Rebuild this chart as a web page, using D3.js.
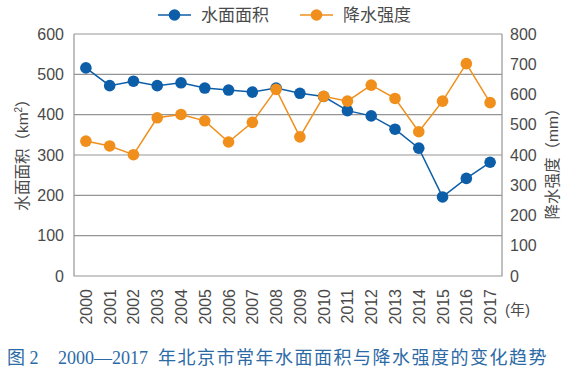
<!DOCTYPE html>
<html>
<head>
<meta charset="utf-8">
<script src="https://cdn.jsdelivr.net/npm/d3@7"></script>
<style>
  body { margin: 0; background: #fff; }
  svg text { font-family: "Liberation Sans", "Noto Sans CJK SC", sans-serif; }
</style>
</head>
<body>
<svg id="chart" width="588" height="373"></svg>
<script>
// data
var years = ['2000', '2001', '2002', '2003', '2004', '2005', '2006', '2007', '2008',
    '2009', '2010', '2011', '2012', '2013', '2014', '2015', '2016', '2017']
var waterArea = [516, 472, 483, 472, 479, 466, 461, 456, 466, 453, 445, 410, 397, 364, 317, 196, 242, 282]
var rainfall = [446, 430, 401, 523, 534, 513, 443, 508, 617, 460, 594, 578, 631, 587, 477, 578, 702, 573]
var leftTicks = [0, 100, 200, 300, 400, 500, 600]
var rightTicks = [0, 100, 200, 300, 400, 500, 600, 700, 800]

var blue = '#0d5ea8'
var orange = '#f08f1c'
var textColor = '#4a4a4a'

var svg = d3.select('#chart')
var pl = 74, pr = 502, pt = 34, pb = 276

var x = d3.scaleBand().domain(years).range([pl, pr])
var yL = d3.scaleLinear().domain([0, 600]).range([pb, pt])
var yR = d3.scaleLinear().domain([0, 800]).range([pb, pt])
var cx = function(d, i) { return x(years[i]) + x.bandwidth() / 2 }

// grid lines
svg.append('g').selectAll('line')
    .data(leftTicks.slice(1))
    .enter()
    .append('line')
    .attr('x1', pl).attr('x2', pr)
    .attr('y1', function(d) { return yL(d) })
    .attr('y2', function(d) { return yL(d) })
    .style('stroke', '#959595')
    .style('stroke-width', 1.2)

// axis frame
svg.append('path')
    .attr('d', 'M' + pl + ',' + pt + 'V' + pb + 'H' + pr + 'V' + pt)
    .style('fill', 'none')
    .style('stroke', '#959595')
    .style('stroke-width', 1.2)

// left ticks
svg.append('g').selectAll('text')
    .data(leftTicks)
    .enter()
    .append('text')
    .attr('x', pl - 10)
    .attr('y', function(d) { return yL(d) + 5.5 })
    .attr('text-anchor', 'end')
    .style('font-size', '16px')
    .style('fill', textColor)
    .text(function(d) { return d })

// right ticks
svg.append('g').selectAll('text')
    .data(rightTicks)
    .enter()
    .append('text')
    .attr('x', pr + 8)
    .attr('y', function(d) { return yR(d) + 5.5 })
    .style('font-size', '16px')
    .style('fill', textColor)
    .text(function(d) { return d })

// year labels, rotated
svg.append('g').selectAll('text')
    .data(years)
    .enter()
    .append('text')
    .attr('transform', function(d) {
        return 'translate(' + (x(d) + x.bandwidth() / 2 + 6) + ',' + (pb + 13) + ') rotate(-90)'
    })
    .attr('text-anchor', 'end')
    .style('font-size', '16px')
    .style('fill', textColor)
    .text(function(d) { return d })

svg.append('text')
    .attr('x', 505).attr('y', 315)
    .style('font-size', '15px')
    .style('fill', textColor)
    .text('(年)')

// axis titles
var lt = svg.append('text')
    .attr('transform', 'translate(28,151) rotate(-90)')
    .attr('text-anchor', 'middle')
    .style('font-size', '15.5px')
    .style('fill', textColor)
lt.append('tspan').text('水面面积（km')
lt.append('tspan').attr('dy', -6).style('font-size', '10px').text('2')
lt.append('tspan').attr('dy', 6).text('）')

svg.append('text')
    .attr('transform', 'translate(558,160) rotate(-90)')
    .attr('text-anchor', 'middle')
    .style('font-size', '15.5px')
    .style('fill', textColor)
    .text('降水强度（mm）')

// series
function drawSeries(values, scale, color) {
    var line = d3.line()
        .x(function(d, i) { return cx(d, i) })
        .y(function(d) { return scale(d) })
    var g = svg.append('g')
    g.append('path')
        .datum(values)
        .attr('d', line)
        .style('fill', 'none')
        .style('stroke', color)
        .style('stroke-width', 1.5)
    g.selectAll('circle')
        .data(values)
        .enter()
        .append('circle')
        .attr('cx', cx)
        .attr('cy', function(d) { return scale(d) })
        .attr('r', 5.8)
        .style('fill', color)
}
drawSeries(waterArea, yL, blue)
drawSeries(rainfall, yR, orange)

// legend
var legend = [
    { name: '水面面积', color: blue, x: 158 },
    { name: '降水强度', color: orange, x: 300 }
]
var lg = svg.append('g').selectAll('g')
    .data(legend)
    .enter()
    .append('g')
    .attr('transform', function(d) { return 'translate(' + d.x + ',15)' })
lg.append('line')
    .attr('x1', 0).attr('x2', 33)
    .style('stroke', function(d) { return d.color })
    .style('stroke-width', 1.5)
lg.append('circle')
    .attr('cx', 16.5).attr('r', 5.8)
    .style('fill', function(d) { return d.color })
lg.append('text')
    .attr('x', 43).attr('y', 6)
    .style('font-size', '17px')
    .style('fill', textColor)
    .text(function(d) { return d.name })

// caption
var cap = svg.append('g')
    .style('fill', '#2c6aa6')
    .style('font-size', '18px')
cap.append('text').attr('x', 7).attr('y', 364)
    .style('font-family', '"Liberation Serif", "Noto Sans CJK SC", serif')
    .text('图 2')
cap.append('text').attr('x', 58).attr('y', 364)
    .style('font-family', '"Liberation Serif", serif')
    .text('2000—2017')
cap.append('text').attr('x', 158).attr('y', 364)
    .style('font-family', '"Noto Sans CJK SC", serif')
    .style('letter-spacing', '1.5px')
    .text('年北京市常年水面面积与降水强度的变化趋势')
</script>
</body>
</html>
